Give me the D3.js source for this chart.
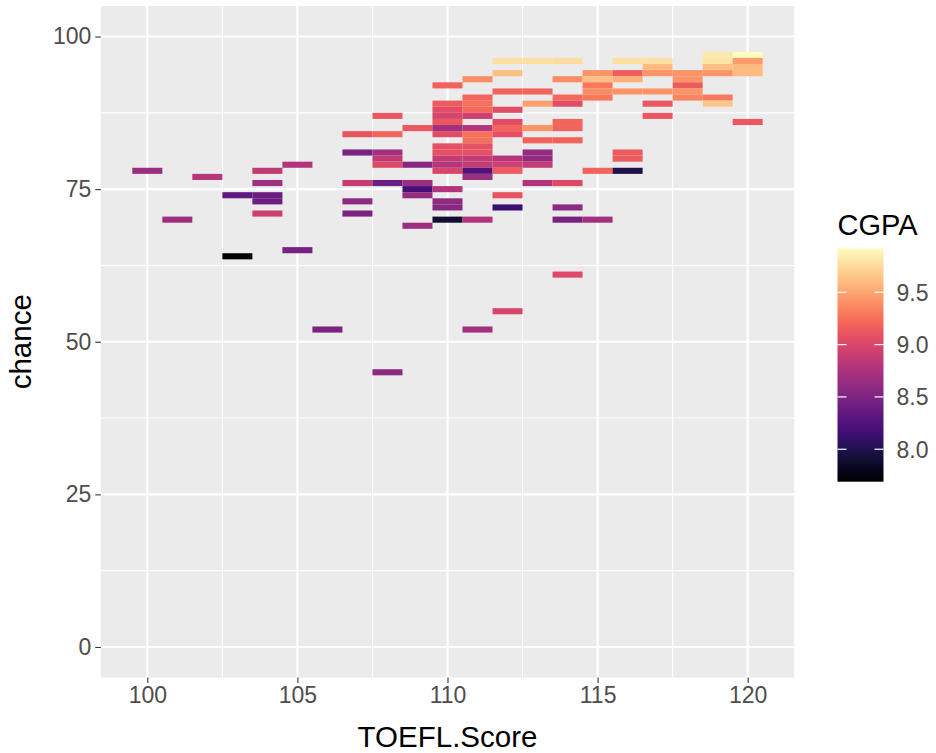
<!DOCTYPE html>
<html>
<head>
<meta charset="utf-8">
<script src="https://cdn.jsdelivr.net/npm/d3@7"></script>
<style>
  html, body { margin: 0; padding: 0; background: #fff; }
  svg text { font-family: "Liberation Sans", Arial, sans-serif; }
</style>
</head>
<body>
<svg id="chart" width="936" height="753"></svg>
<script>
// tiles: one entry per (TOEFL.Score, chance) cell, coloured by CGPA
const toefl = [
  119, 120,
  112, 113, 114, 116, 117, 119, 120,
  117, 119, 120,
  112, 115, 116, 117, 118, 119, 120,
  111, 114, 115, 116, 118,
  110, 115, 118,
  112, 113, 115, 116, 117, 118,
  111, 114, 115, 118, 119,
  110, 111, 113, 114, 117, 119,
  110, 111, 112,
  108, 110, 111, 117,
  110, 112, 114, 120,
  109, 110, 111, 112, 113, 114,
  107, 108, 110, 111, 112,
  111, 113, 114,
  110, 111,
  107, 108, 110, 111, 113, 116,
  108, 110, 111, 112, 113, 116,
  105, 108, 109, 110, 111, 112, 113,
  100, 104, 110, 111, 112, 115, 116,
  102, 111,
  104, 107, 108, 109, 113, 114,
  109, 110,
  103, 104, 109, 112,
  104, 107, 110,
  110, 112, 114,
  104, 107,
  101, 110, 111, 114, 115,
  109,
  105,
  103,
  114,
  112,
  106, 111,
  108
];
const chance = [
  97, 97,
  96, 96, 96, 96, 96, 96, 96,
  95, 95, 95,
  94, 94, 94, 94, 94, 94, 94,
  93, 93, 93, 93, 93,
  92, 92, 92,
  91, 91, 91, 91, 91, 91,
  90, 90, 90, 90, 90,
  89, 89, 89, 89, 89, 89,
  88, 88, 88,
  87, 87, 87, 87,
  86, 86, 86, 86,
  85, 85, 85, 85, 85, 85,
  84, 84, 84, 84, 84,
  83, 83, 83,
  82, 82,
  81, 81, 81, 81, 81, 81,
  80, 80, 80, 80, 80, 80,
  79, 79, 79, 79, 79, 79, 79,
  78, 78, 78, 78, 78, 78, 78,
  77, 77,
  76, 76, 76, 76, 76, 76,
  75, 75,
  74, 74, 74, 74,
  73, 73, 73,
  72, 72, 72,
  71, 71,
  70, 70, 70, 70, 70,
  69,
  65,
  64,
  61,
  55,
  52, 52,
  45
];
const cgpa = [
  9.82, 9.92,
  9.78, 9.78, 9.76, 9.78, 9.78, 9.80, 9.45,
  9.60, 9.62, 9.60,
  9.62, 9.42, 9.16, 9.42, 9.42, 9.42, 9.60,
  9.38, 9.38, 9.62, 9.55, 9.42,
  9.18, 9.30, 9.15,
  9.20, 9.20, 9.38, 9.42, 9.42, 9.42,
  9.20, 9.22, 9.30, 9.35, 9.30,
  9.15, 9.25, 9.48, 9.05, 9.12, 9.65,
  9.05, 9.22, 9.05,
  9.12, 8.98, 8.95, 9.12,
  9.12, 9.05, 9.20, 9.12,
  9.12, 8.70, 8.80, 9.20, 9.42, 9.20,
  9.10, 9.20, 9.05, 9.25, 9.08,
  9.25, 9.18, 9.18,
  9.08, 9.08,
  8.47, 8.70, 9.08, 9.08, 8.62, 9.15,
  8.85, 8.88, 8.88, 8.80, 8.62, 9.15,
  8.78, 9.03, 8.55, 8.80, 8.88, 8.95, 8.88,
  8.66, 8.86, 9.00, 8.25, 9.15, 9.20, 7.98,
  8.80, 8.66,
  8.68, 8.90, 8.40, 8.66, 8.78, 9.03,
  8.20, 8.78,
  8.33, 8.40, 8.62, 9.10,
  8.40, 8.58, 8.60,
  8.55, 8.14, 8.58,
  8.92, 8.50,
  8.68, 7.90, 8.78, 8.47, 8.70,
  8.68,
  8.47,
  7.69,
  9.03,
  8.98,
  8.48, 8.70,
  8.58
];

const xTicks = [100, 105, 110, 115, 120];
const xMinor = [102.5, 107.5, 112.5, 117.5];
const yTicks = [0, 25, 50, 75, 100];
const yMinor = [12.5, 37.5, 62.5, 87.5];
const legendTicks = [8.0, 8.5, 9.0, 9.5];

const tiles = toefl.map((t, i) => ({ x: t, y: chance[i], c: cgpa[i] }));

const panel = { left: 100.8, right: 794.2, top: 6, bottom: 677.5 };

const svg = d3.select('#chart');

const x = d3.scaleLinear().domain([98.45, 121.55]).range([panel.left, panel.right]);
const y = d3.scaleLinear().domain([-5, 105]).range([panel.bottom, panel.top]);
const cExt = d3.extent(cgpa);
const color = d3.scaleSequential(d3.interpolateMagma).domain(cExt);

// panel background + grid
svg.append('rect')
  .attr('x', panel.left).attr('y', panel.top)
  .attr('width', panel.right - panel.left).attr('height', panel.bottom - panel.top)
  .attr('fill', '#EBEBEB');

const grid = svg.append('g');
grid.selectAll('.gx-minor').data(xMinor).enter().append('line')
  .attr('x1', d => x(d)).attr('x2', d => x(d))
  .attr('y1', panel.top).attr('y2', panel.bottom)
  .attr('stroke', '#fff').attr('stroke-width', 1.1);
grid.selectAll('.gy-minor').data(yMinor).enter().append('line')
  .attr('y1', d => y(d)).attr('y2', d => y(d))
  .attr('x1', panel.left).attr('x2', panel.right)
  .attr('stroke', '#fff').attr('stroke-width', 1.1);
grid.selectAll('.gx').data(xTicks).enter().append('line')
  .attr('x1', d => x(d)).attr('x2', d => x(d))
  .attr('y1', panel.top).attr('y2', panel.bottom)
  .attr('stroke', '#fff').attr('stroke-width', 2.2);
grid.selectAll('.gy').data(yTicks).enter().append('line')
  .attr('y1', d => y(d)).attr('y2', d => y(d))
  .attr('x1', panel.left).attr('x2', panel.right)
  .attr('stroke', '#fff').attr('stroke-width', 2.2);

// tiles (width/height = 1 unit)
const tw = x(1) - x(0);
const th = y(0) - y(1);
svg.append('g').selectAll('rect').data(tiles).enter().append('rect')
  .attr('x', d => x(d.x - 0.5))
  .attr('y', d => y(d.y + 0.5))
  .attr('width', tw)
  .attr('height', th)
  .attr('fill', d => color(d.c));

// axes
const axisX = svg.append('g')
  .attr('transform', `translate(0,${panel.bottom})`)
  .call(d3.axisBottom(x).tickValues(xTicks).tickSize(5.5).tickPadding(4).tickFormat(d3.format('d')));
const axisY = svg.append('g')
  .attr('transform', `translate(${panel.left},0)`)
  .call(d3.axisLeft(y).tickValues(yTicks).tickSize(5.5).tickPadding(4).tickFormat(d3.format('d')));
[axisX, axisY].forEach(ax => {
  ax.select('.domain').remove();
  ax.selectAll('.tick line').attr('stroke', '#333').attr('stroke-width', 1.1);
  ax.selectAll('.tick text').attr('fill', '#4D4D4D').style('font-size', '23px');
});

svg.append('text')
  .attr('x', (panel.left + panel.right) / 2).attr('y', 747)
  .attr('text-anchor', 'middle').style('font-size', '29.5px').attr('fill', '#000')
  .text('TOEFL.Score');
svg.append('text')
  .attr('transform', `translate(31,${(panel.top + panel.bottom) / 2}) rotate(-90)`)
  .attr('text-anchor', 'middle').style('font-size', '29.5px').attr('fill', '#000')
  .text('chance');

// legend colourbar
const bar = { x: 837.5, w: 46, top: 248.3, bottom: 481.7 };
const ly = d3.scaleLinear().domain(cExt).range([bar.bottom, bar.top]);

const grad = svg.append('defs').append('linearGradient')
  .attr('id', 'cgpa-grad').attr('x1', 0).attr('y1', 1).attr('x2', 0).attr('y2', 0);
d3.range(0, 1.0001, 0.02).forEach(t => {
  grad.append('stop').attr('offset', t).attr('stop-color', d3.interpolateMagma(t));
});

svg.append('text')
  .attr('x', bar.x).attr('y', 235)
  .style('font-size', '29px').attr('fill', '#000')
  .text('CGPA');

svg.append('rect')
  .attr('x', bar.x).attr('y', bar.top)
  .attr('width', bar.w).attr('height', bar.bottom - bar.top)
  .attr('fill', 'url(#cgpa-grad)');

const lt = svg.append('g');
legendTicks.forEach(v => {
  lt.append('line')
    .attr('x1', bar.x).attr('x2', bar.x + 9)
    .attr('y1', ly(v)).attr('y2', ly(v))
    .attr('stroke', '#fff').attr('stroke-width', 1.2);
  lt.append('line')
    .attr('x1', bar.x + bar.w - 9).attr('x2', bar.x + bar.w)
    .attr('y1', ly(v)).attr('y2', ly(v))
    .attr('stroke', '#fff').attr('stroke-width', 1.2);
  lt.append('text')
    .attr('x', bar.x + bar.w + 13).attr('y', ly(v))
    .attr('dy', '0.36em')
    .style('font-size', '23px').attr('fill', '#4D4D4D')
    .text(d3.format('.1f')(v));
});
</script>
</body>
</html>
